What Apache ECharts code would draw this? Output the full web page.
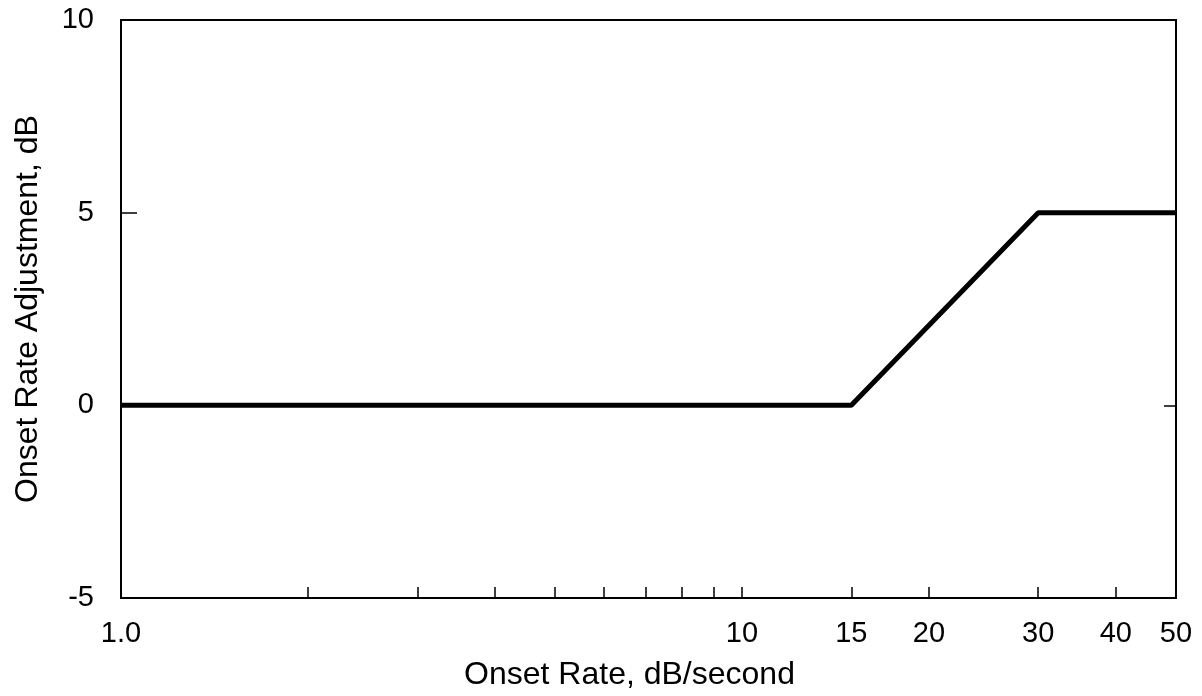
<!DOCTYPE html>
<html>
<head>
<meta charset="utf-8">
<title>Onset Rate Adjustment</title>
<script src="https://cdn.jsdelivr.net/npm/echarts@6/dist/echarts.min.js"></script>
<style>
    html, body { margin: 0; padding: 0; background: #fff; }
    #chart { width: 1202px; height: 696px; }
</style>
</head>
<body>
<div id="chart"></div>
<script>
    // onset rate (dB/second) vs adjustment (dB)
    const onsetRate = [1, 15, 30, 50];
    const adjustment = [0, 0, 5, 5];
    // axis marks
    const xLabelValues = [1, 10, 15, 20, 30, 40, 50];
    const xTickValues = [2, 3, 4, 5, 6, 7, 8, 9, 10, 15, 20, 30, 40];
    const yTickValues = [-5, 0, 5, 10];

    const font = 'Liberation Sans, Arial, Helvetica, sans-serif';
    const chart = echarts.init(document.getElementById('chart'));

    const option = {
        animation: false,
        grid: {
            left: 121,
            right: 26,
            top: 20,
            bottom: 97,
            show: true,
            borderColor: '#000',
            borderWidth: 2
        },
        xAxis: {
            type: 'log',
            logBase: 10,
            min: 1,
            max: 50,
            name: 'Onset Rate, dB/second',
            nameLocation: 'middle',
            nameGap: 61,
            nameTextStyle: {
                fontFamily: font,
                fontSize: 32,
                color: '#000',
                padding: [0, 38, 0, 0]
            },
            axisLine: { onZero: false, lineStyle: { color: '#000', width: 2 } },
            axisTick: {
                inside: true,
                length: 11,
                customValues: xTickValues,
                lineStyle: { color: '#000', width: 1.5 }
            },
            minorTick: { show: false },
            splitLine: { show: false },
            axisLabel: {
                customValues: xLabelValues,
                fontFamily: font,
                fontSize: 29,
                color: '#000',
                margin: 21,
                formatter: function (v) {
                    return v === 1 ? '1.0' : String(v);
                }
            }
        },
        yAxis: [
            {
                type: 'value',
                min: -5,
                max: 10,
                interval: 5,
                name: 'Onset Rate Adjustment, dB',
                nameLocation: 'middle',
                nameGap: 77,
                nameTextStyle: {
                    fontFamily: font,
                    fontSize: 32,
                    color: '#000'
                },
                axisLine: { show: true, lineStyle: { color: '#000', width: 2 } },
                axisTick: {
                    show: true,
                    inside: true,
                    length: 16,
                    customValues: yTickValues,
                    lineStyle: { color: '#000', width: 1.5 }
                },
                splitLine: { show: false },
                axisLabel: {
                    fontFamily: font,
                    fontSize: 29,
                    color: '#000',
                    margin: 27
                }
            },
            {
                type: 'value',
                position: 'right',
                min: -5,
                max: 10,
                interval: 5,
                axisLine: { show: true, lineStyle: { color: '#000', width: 2 } },
                axisTick: {
                    show: true,
                    inside: true,
                    length: 12,
                    lineStyle: { color: '#000', width: 1.5 }
                },
                splitLine: { show: false },
                axisLabel: { show: false }
            }
        ],
        series: [
            {
                type: 'line',
                data: onsetRate.map(function (x, i) { return [x, adjustment[i]]; }),
                symbol: 'none',
                lineStyle: { color: '#000', width: 5 }
            }
        ]
    };
    chart.setOption(option);

    window.onresize = function () {
        chart.resize();
    };
</script>
</body>
</html>
